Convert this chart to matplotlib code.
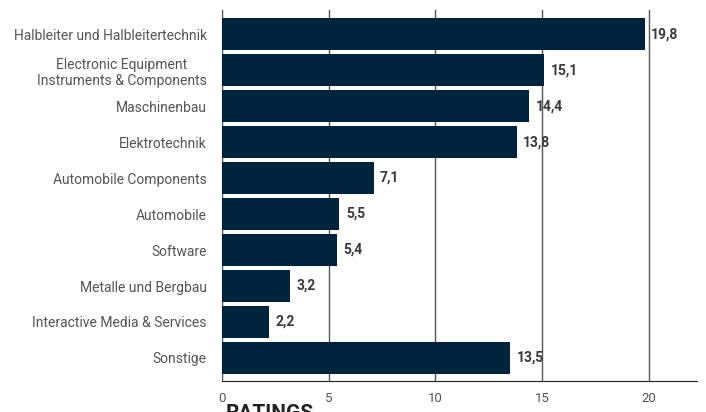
import matplotlib.pyplot as plt
import numpy as np

# Sector weights
categories = [
    "Halbleiter und Halbleitertechnik",
    "Electronic Equipment\nInstruments & Components",
    "Maschinenbau",
    "Elektrotechnik",
    "Automobile Components",
    "Automobile",
    "Software",
    "Metalle und Bergbau",
    "Interactive Media & Services",
    "Sonstige",
]
values = [19.8, 15.1, 14.4, 13.8, 7.1, 5.5, 5.4, 3.2, 2.2, 13.5]
xticks = [0, 5, 10, 15, 20]

plt.rcParams['font.family'] = ['Roboto', 'DejaVu Sans']

fig = plt.figure(figsize=(7.06, 4.12), dpi=100)
# axes: left at x=222px, right 697px, top 10px, bottom 381px
ax = fig.add_axes([222 / 706, 1 - 381 / 412, (697 - 222) / 706, (381 - 10) / 412])

y = np.arange(len(categories))
ax.barh(y, values, height=0.89, color="#00233d", zorder=3)

for yi, v in zip(y, values):
    ax.text(v + 0.3, yi, f"{v:.1f}".replace(".", ","), va="center", ha="left",
            fontsize=10, fontweight="bold", color="#3a3a3a", zorder=4)

ax.set_xlim(0, 22.25)
ax.set_ylim(len(categories) - 1 + 0.64, -0.67)
ax.set_yticks(y)
ax.set_yticklabels(categories, fontsize=10, color="#555555", ha="right")
ax.tick_params(axis="y", length=0, pad=11)
for lbl in ax.get_yticklabels():
    lbl.set_multialignment("center")

ax.set_xticks(xticks)
ax.set_xticklabels([str(t) for t in xticks], fontsize=9.5, color="#555555")
ax.tick_params(axis="x", length=0, pad=8)

ax.grid(axis="x", color="#555555", linewidth=1.0, zorder=0)
for s in ["top", "right"]:
    ax.spines[s].set_visible(False)
ax.spines["left"].set_color("#555555")
ax.spines["bottom"].set_color("#222222")
ax.spines["bottom"].set_zorder(5)

# axis title, cut off at the bottom edge as in the original
fig.text(226 / 706, 1 - 404 / 412, "RATINGS", fontsize=15, fontweight="bold",
         color="#222222", va="top", ha="left")

fig.savefig("out.png", dpi=100)
